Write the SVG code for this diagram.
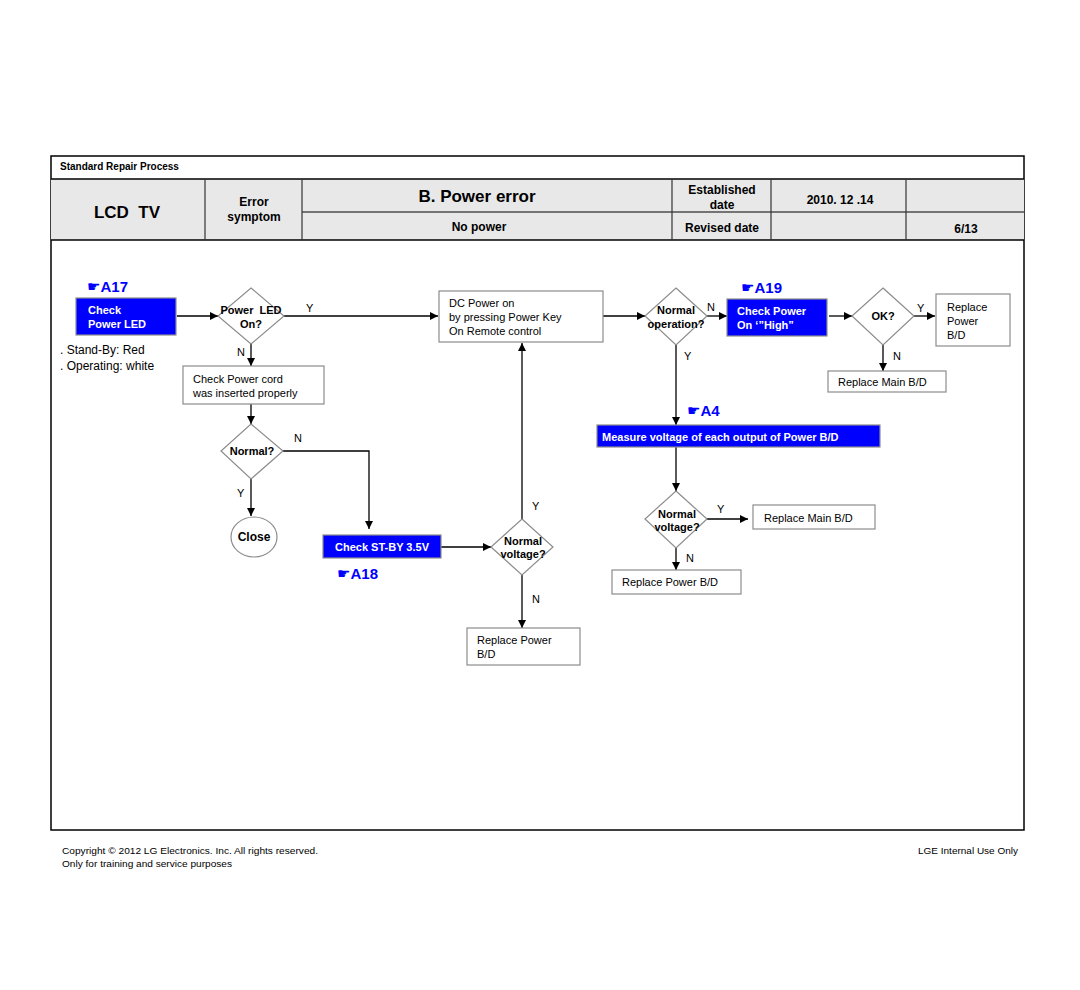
<svg xmlns="http://www.w3.org/2000/svg" width="1080" height="990" viewBox="0 0 1080 990">
<defs>
<marker id="ah" viewBox="0 0 10 10" refX="10" refY="5" markerWidth="9" markerHeight="8" markerUnits="userSpaceOnUse" orient="auto">
<path d="M0,0 L10,5 L0,10 z" fill="#000"/>
</marker>
<style>
text{font-family:"Liberation Sans",Arial,sans-serif;fill:#000}
.hb{font-weight:bold;font-size:12px}
.t{font-size:11px}
.tb{font-size:11px;font-weight:bold}
.w{fill:#fff;font-size:11px;font-weight:bold}
.lbl{font-size:11px}
.ref{fill:#0000ff;font-weight:bold;font-size:15px}
.hand{font-family:"DejaVu Sans",sans-serif;font-size:15px;font-weight:normal;fill:#0000ff}
.box{fill:#fff;stroke:#8c8c8c;stroke-width:1.2}
.blue{fill:#0000ff;stroke:#8c8c8c;stroke-width:1.2}
.dia{fill:#fff;stroke:#8c8c8c;stroke-width:1.2}
.ca{fill:none;stroke:#000;stroke-width:1.3;marker-end:url(#ah)}
.foot{font-size:9px}
</style>
</defs>
<rect width="1080" height="990" fill="#fff"/>

<g id="header">
<rect x="51" y="156" width="973" height="674" fill="#fff" stroke="#000" stroke-width="1.5"/>
<rect x="51" y="179" width="973" height="61" fill="#e8e8e8"/>
<line x1="51" y1="179" x2="1024" y2="179" stroke="#000" stroke-width="1.5"/>
<line x1="51" y1="240" x2="1024" y2="240" stroke="#000" stroke-width="1.5"/>
<line x1="302" y1="212" x2="1024" y2="212" stroke="#000" stroke-width="1.2"/>
<line x1="205" y1="179" x2="205" y2="240" stroke="#333" stroke-width="1.2"/>
<line x1="302" y1="179" x2="302" y2="240" stroke="#333" stroke-width="1.2"/>
<line x1="672" y1="179" x2="672" y2="240" stroke="#333" stroke-width="1.2"/>
<line x1="771" y1="179" x2="771" y2="240" stroke="#333" stroke-width="1.2"/>
<line x1="906" y1="179" x2="906" y2="240" stroke="#333" stroke-width="1.2"/>
<text x="60" y="170" font-size="10" font-weight="bold">Standard Repair Process</text>
<text x="127" y="218" font-size="17" font-weight="bold" text-anchor="middle" xml:space="preserve">LCD  TV</text>
<text x="254" y="206" class="hb" text-anchor="middle">Error</text>
<text x="254" y="221" class="hb" text-anchor="middle">symptom</text>
<text x="477" y="202" font-size="17" font-weight="bold" text-anchor="middle">B. Power error</text>
<text x="479" y="231" class="hb" text-anchor="middle">No power</text>
<text x="722" y="194" class="hb" text-anchor="middle">Established</text>
<text x="722" y="209" class="hb" text-anchor="middle">date</text>
<text x="840" y="204" class="hb" text-anchor="middle">2010. 12 .14</text>
<text x="722" y="232" class="hb" text-anchor="middle">Revised date</text>
<text x="966" y="233" class="hb" text-anchor="middle">6/13</text>
</g>

<g id="connectors">
<line class="ca" x1="177" y1="316" x2="218" y2="316"/>
<line class="ca" x1="284" y1="316" x2="438" y2="316"/>
<line class="ca" x1="251" y1="344" x2="251" y2="366"/>
<line class="ca" x1="251" y1="404" x2="251" y2="424"/>
<polyline class="ca" points="283,451 369,451 369,529"/>
<line class="ca" x1="251" y1="479" x2="251" y2="516"/>
<line class="ca" x1="441" y1="547" x2="491" y2="547"/>
<line class="ca" x1="522" y1="519" x2="522" y2="343"/>
<line class="ca" x1="522" y1="575" x2="522" y2="628"/>
<line class="ca" x1="603" y1="316" x2="645" y2="316"/>
<line class="ca" x1="707" y1="316" x2="727" y2="316"/>
<line class="ca" x1="829" y1="316" x2="852" y2="316"/>
<line class="ca" x1="914" y1="316" x2="935" y2="316"/>
<line class="ca" x1="883" y1="345" x2="883" y2="371"/>
<line class="ca" x1="676" y1="345" x2="676" y2="425"/>
<line class="ca" x1="676" y1="447" x2="676" y2="491"/>
<line class="ca" x1="707" y1="519" x2="748" y2="519"/>
<line class="ca" x1="676" y1="548" x2="676" y2="570"/>
<text x="306" y="312" class="lbl">Y</text>
<text x="237" y="356" class="lbl">N</text>
<text x="294" y="442" class="lbl">N</text>
<text x="237" y="497" class="lbl">Y</text>
<text x="532" y="510" class="lbl">Y</text>
<text x="532" y="603" class="lbl">N</text>
<text x="707" y="311" class="lbl">N</text>
<text x="917" y="312" class="lbl">Y</text>
<text x="893" y="360" class="lbl">N</text>
<text x="684" y="360" class="lbl">Y</text>
<text x="717" y="513" class="lbl">Y</text>
<text x="686" y="562" class="lbl">N</text>
</g>

<g id="n-a17">
<text x="87" y="292" class="ref"><tspan class="hand">☛</tspan>A17</text>
<rect class="blue" x="76" y="298" width="100" height="37"/>
<text x="88" y="314" class="w">Check</text>
<text x="88" y="328" class="w">Power LED</text>
<text x="60" y="354" font-size="12">. Stand-By: Red</text>
<text x="60" y="370" font-size="12">. Operating: white</text>
</g>

<g id="n-led">
<polygon class="dia" points="251,288 284,316 251,344 218,316"/>
<text x="251" y="314" class="tb" text-anchor="middle" xml:space="preserve">Power  LED</text>
<text x="251" y="328" class="tb" text-anchor="middle">On?</text>
</g>

<g id="n-cord">
<rect class="box" x="183" y="366" width="141" height="38"/>
<text x="193" y="383" class="t">Check Power cord</text>
<text x="193" y="397" class="t">was inserted properly</text>
</g>

<g id="n-normal">
<polygon class="dia" points="251,424 283,451 251,479 221,451"/>
<text x="252" y="455" class="tb" text-anchor="middle">Normal?</text>
</g>

<g id="n-close">
<ellipse cx="254" cy="537" rx="23" ry="20" fill="#fff" stroke="#8c8c8c" stroke-width="1.2"/>
<text x="254" y="541" font-size="12" font-weight="bold" text-anchor="middle">Close</text>
</g>

<g id="n-stby">
<rect class="blue" x="323" y="535" width="118" height="23"/>
<text x="382" y="551" class="w" text-anchor="middle">Check ST-BY 3.5V</text>
<text x="337" y="579" class="ref"><tspan class="hand">☛</tspan>A18</text>
</g>

<g id="n-volt1">
<polygon class="dia" points="522,519 553,547 522,575 491,547"/>
<text x="523" y="545" class="tb" text-anchor="middle">Normal</text>
<text x="523" y="558" class="tb" text-anchor="middle">voltage?</text>
</g>

<g id="n-rpower1">
<rect class="box" x="467" y="628" width="113" height="37"/>
<text x="477" y="644" class="t">Replace Power</text>
<text x="477" y="658" class="t">B/D</text>
</g>

<g id="n-dc">
<rect class="box" x="439" y="291" width="164" height="51"/>
<text x="449" y="307" class="t">DC Power on</text>
<text x="449" y="321" class="t">by pressing Power Key</text>
<text x="449" y="335" class="t">On Remote control</text>
</g>

<g id="n-oper">
<polygon class="dia" points="676,288 707,316 676,345 645,316"/>
<text x="676" y="314" class="tb" text-anchor="middle">Normal</text>
<text x="676" y="328" class="tb" text-anchor="middle">operation?</text>
</g>

<g id="n-high">
<text x="741" y="293" class="ref"><tspan class="hand">☛</tspan>A19</text>
<rect class="blue" x="727" y="299" width="100" height="37"/>
<text x="737" y="315" class="w">Check Power</text>
<text x="737" y="329" class="w">On ‘”High”</text>
</g>

<g id="n-ok">
<polygon class="dia" points="883,288 914,316 883,345 852,316"/>
<text x="883" y="320" class="tb" text-anchor="middle">OK?</text>
</g>

<g id="n-rpower2">
<rect class="box" x="936" y="294" width="74" height="52"/>
<text x="947" y="311" class="t">Replace</text>
<text x="947" y="325" class="t">Power</text>
<text x="947" y="339" class="t">B/D</text>
</g>

<g id="n-rmain1">
<rect class="box" x="828" y="371" width="118" height="21"/>
<text x="838" y="386" class="t">Replace Main B/D</text>
</g>

<g id="n-measure">
<text x="687" y="416" class="ref"><tspan class="hand">☛</tspan>A4</text>
<rect class="blue" x="597" y="425" width="283" height="22"/>
<text x="602" y="441" class="w">Measure voltage of each output of Power B/D</text>
</g>

<g id="n-volt2">
<polygon class="dia" points="676,491 707,519 676,548 645,519"/>
<text x="677" y="518" class="tb" text-anchor="middle">Normal</text>
<text x="677" y="531" class="tb" text-anchor="middle">voltage?</text>
</g>

<g id="n-rmain2">
<rect class="box" x="753" y="505" width="122" height="24"/>
<text x="764" y="522" class="t">Replace Main B/D</text>
</g>

<g id="n-rpower3">
<rect class="box" x="612" y="570" width="129" height="24"/>
<text x="622" y="586" class="t">Replace Power B/D</text>
</g>

<g id="footer">
<text x="62" y="854" class="foot" textLength="256" lengthAdjust="spacingAndGlyphs">Copyright © 2012 LG Electronics. Inc. All rights reserved.</text>
<text x="62" y="867" class="foot" textLength="170" lengthAdjust="spacingAndGlyphs">Only for training and service purposes</text>
<text x="918" y="854" class="foot" textLength="100" lengthAdjust="spacingAndGlyphs">LGE Internal Use Only</text>
</g>
</svg>
